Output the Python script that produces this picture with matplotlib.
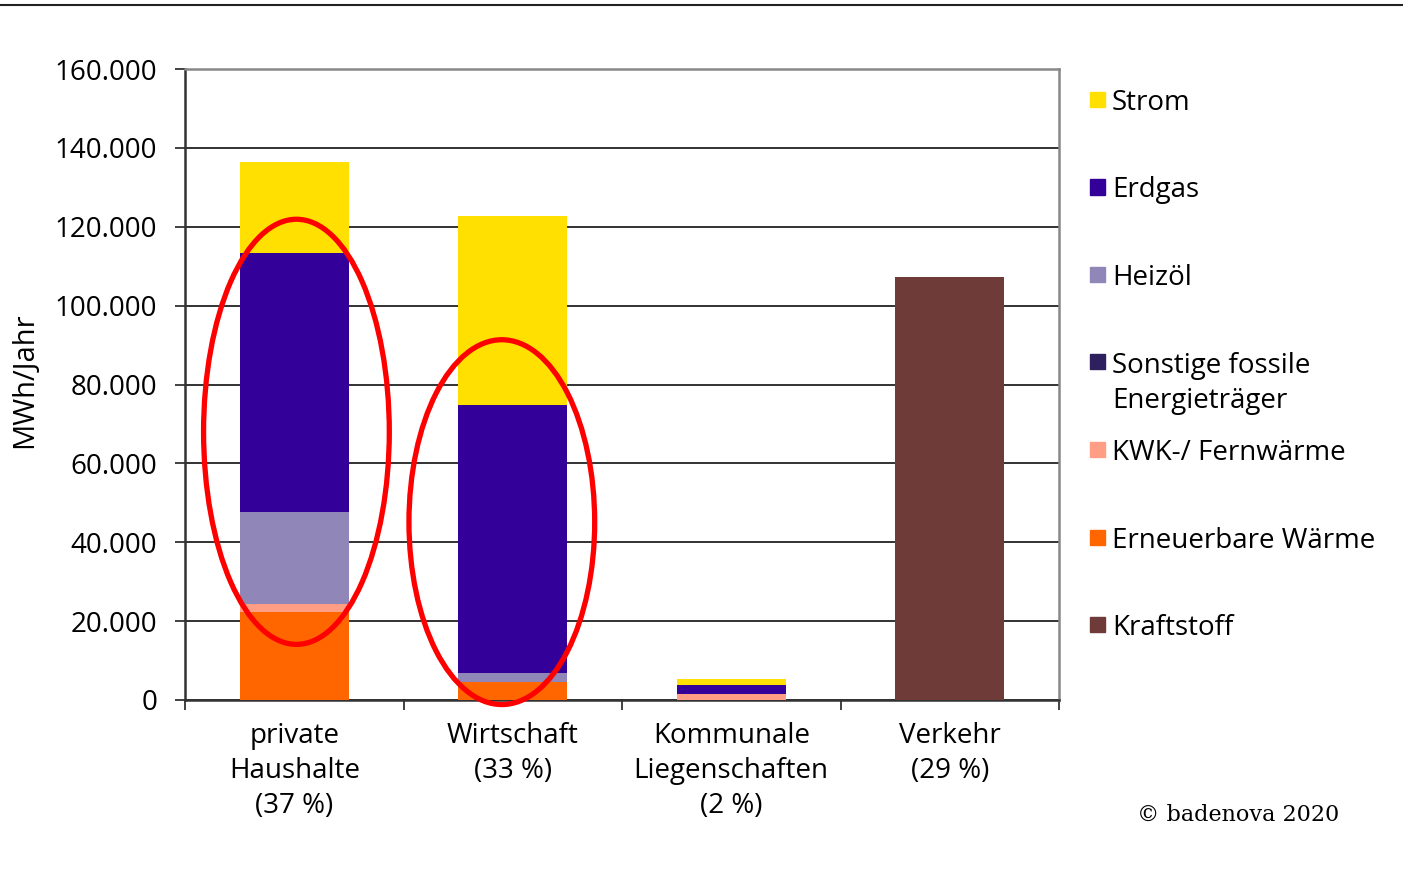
import numpy as np
import matplotlib
matplotlib.use("Agg")
from matplotlib import pyplot as plt
from matplotlib.patches import Ellipse, Rectangle
from matplotlib.ticker import FixedLocator, FuncFormatter

plt.rcParams['font.family'] = ['Open Sans', 'DejaVu Sans']

### DATA ######################################################################

categories = ["private\nHaushalte\n(37 %)", "Wirtschaft\n(33 %)",
              "Kommunale\nLiegenschaften\n(2 %)", "Verkehr\n(29 %)"]

# stacked from bottom to top, MWh/Jahr
erneuerbare = [22400, 4600, 0, 0]
kwk = [1900, 0, 1400, 0]
sonstige = [0, 0, 0, 0]
heizoel = [23400, 2200, 0, 0]
erdgas = [65600, 68000, 2400, 0]
strom = [23100, 47900, 1400, 0]
kraftstoff = [0, 0, 0, 107200]

series = [("Erneuerbare Wärme", erneuerbare, "#ff6600"),
          ("KWK-/ Fernwärme", kwk, "#ff9e85"),
          ("Sonstige fossile\nEnergieträger", sonstige, "#2e1f5e"),
          ("Heizöl", heizoel, "#9087b8"),
          ("Erdgas", erdgas, "#330099"),
          ("Strom", strom, "#ffe000"),
          ("Kraftstoff", kraftstoff, "#6e3b38")]

legendOrder = ["Strom", "Erdgas", "Heizöl", "Sonstige fossile\nEnergieträger",
               "KWK-/ Fernwärme", "Erneuerbare Wärme", "Kraftstoff"]

yTicks = [0, 20000, 40000, 60000, 80000, 100000, 120000, 140000, 160000]

### PLOT ######################################################################

fig = plt.figure(figsize=(14.03, 8.72), dpi=100)
ax = fig.add_axes([185/1403, 1-700/872, (1059-185)/1403, (700-69)/872])

x = np.arange(len(categories))
bottom = np.zeros(len(categories))
for name, vals, col in series:
    vals = np.array(vals, dtype=float)
    ax.bar(x, vals, width=0.5, bottom=bottom, color=col, edgecolor='none', zorder=3)
    bottom += vals

ax.set_xlim(-0.5, len(categories)-0.5)
ax.set_ylim(0, 160000)
ax.yaxis.set_major_locator(FixedLocator(yTicks))
ax.yaxis.set_major_formatter(FuncFormatter(lambda v, p: "{:,.0f}".format(v).replace(",", ".")))
ax.grid(axis='y', color='#222222', linewidth=1.3, zorder=0)

ax.set_xticks(x)
ax.set_xticklabels(categories, fontsize=20, linespacing=1.33)
ax.set_xticks(np.arange(len(categories)+1)-0.5, minor=True)
ax.tick_params(axis='x', which='major', length=0, pad=16)
ax.tick_params(axis='x', which='minor', length=7, width=1.3, color='#333333')
ax.tick_params(axis='y', labelsize=20, length=7, width=1.3, color='#333333', pad=13)

for s in ['left', 'bottom']:
    ax.spines[s].set_color('#333333')
    ax.spines[s].set_linewidth(1.8)
for s in ['top', 'right']:
    ax.spines[s].set_color('#888888')
    ax.spines[s].set_linewidth(1.8)

fig.text(25/1403, 1-380/872, "MWh/Jahr", rotation=90, fontsize=21,
         ha='center', va='center')

# red ellipses
ax.add_patch(Ellipse((0.01, 68000), 0.85, 107800, fill=False,
                     edgecolor='#ff0000', linewidth=3.8, zorder=5, clip_on=False))
ax.add_patch(Ellipse((0.95, 45100), 0.85, 92500, fill=False,
                     edgecolor='#ff0000', linewidth=3.8, zorder=5, clip_on=False))

# legend drawn by hand
colors = {name: col for name, vals, col in series}
for i, name in enumerate(legendOrder):
    yc = 100 + i*87.5
    fig.patches.append(Rectangle((1090/1403, 1-(yc+7)/872), 15/1403, 15/872,
                                 color=colors[name], transform=fig.transFigure))
    for k, line in enumerate(name.split("\n")):
        fig.text(1112/1403, 1-(yc+3+k*35)/872, line, fontsize=20, ha='left', va='center')

fig.text(1238/1403, 1-815/872, "© badenova 2020", fontsize=16,
         ha='center', va='center', family=['DejaVu Serif'])

# top border line
fig.add_artist(plt.Line2D([0, 1], [1-5/872, 1-5/872], color='#222222',
                          linewidth=1.5, transform=fig.transFigure))

fig.savefig("out.png", dpi=100)
